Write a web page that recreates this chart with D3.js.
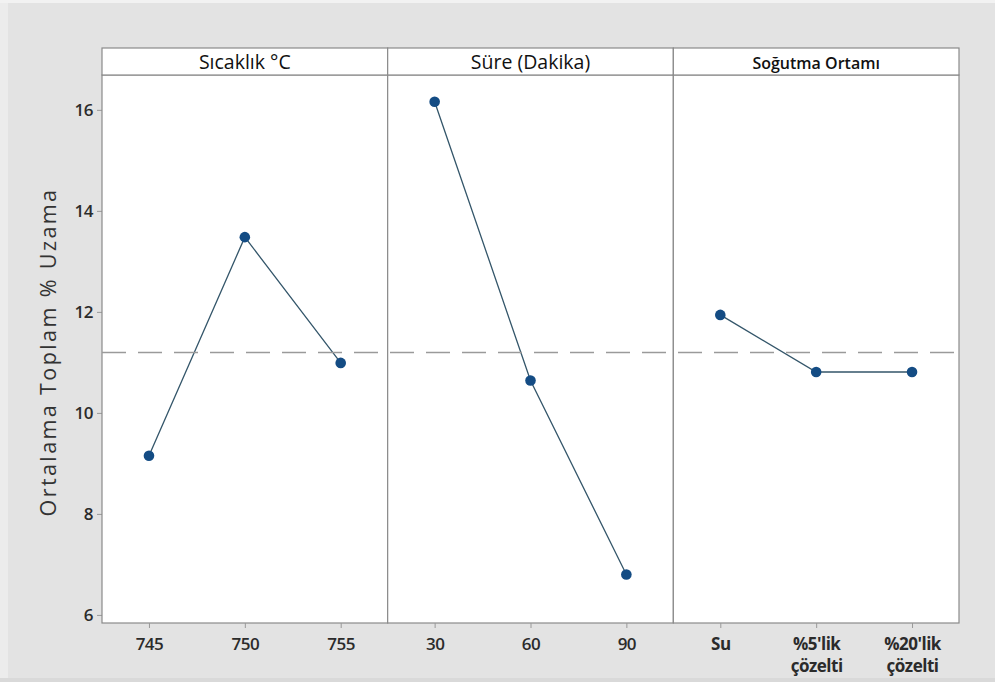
<!DOCTYPE html>
<html>
<head>
<meta charset="utf-8">
<script src="https://cdn.jsdelivr.net/npm/d3@7/dist/d3.min.js"></script>
<style>
  html, body { margin: 0; padding: 0; background: #e3e3e3; }
  svg { display: block; }
</style>
</head>
<body>
<svg id="chart" width="995" height="682"></svg>
<script>
// Main effects plot: mean total elongation per factor level
const panelTitles = ["Sıcaklık °C", "Süre (Dakika)", "Soğutma Ortamı"];
const sicaklikLevels = ["745", "750", "755"];
const sicaklikMeans = [9.15, 13.48, 10.99];
const sureLevels = ["30", "60", "90"];
const sureMeans = [16.16, 10.64, 6.80];
const ortamLevels = ["Su", "%5'lik\nçözelti", "%20'lik\nçözelti"];
const ortamMeans = [11.94, 10.81, 10.81];
const yTicks = [6, 8, 10, 12, 14, 16];
const yLabel = "Ortalama Toplam % Uzama";

(function () {
  const panels = [
    { title: panelTitles[0], levels: sicaklikLevels, means: sicaklikMeans, boldTicks: false },
    { title: panelTitles[1], levels: sureLevels, means: sureMeans, boldTicks: false },
    { title: panelTitles[2], levels: ortamLevels, means: ortamMeans, boldTicks: true }
  ];

  // overall mean of the response
  const grandMean = d3.mean(panels.flatMap(p => p.means));

  const svg = d3.select("#chart");
  const W = 995, H = 682;

  // outer frame
  svg.append("rect").attr("x", 0).attr("y", 0).attr("width", W).attr("height", H).attr("fill", "#e3e3e3");
  svg.append("rect").attr("x", 0).attr("y", 0).attr("width", 8).attr("height", H).attr("fill", "#ececec");
  svg.append("rect").attr("x", 0).attr("y", 0).attr("width", W).attr("height", 3).attr("fill", "#f2f2f2");
  svg.append("rect").attr("x", 0).attr("y", H - 4).attr("width", W).attr("height", 4).attr("fill", "#d9d9d9");

  const mLeft = 102, mRight = 959, mTop = 48, stripH = 27, mBottom = 623;
  const plotTop = mTop + stripH;
  const panelW = (mRight - mLeft) / panels.length;

  const y = d3.scaleLinear().domain([5.84, 16.69]).range([mBottom, plotTop]);

  const font = "'Open Sans', 'Noto Sans', sans-serif";
  const frameColor = "#8a8a8a";
  const tickFont = 17;

  // y axis
  const yAxis = svg.append("g")
    .attr("transform", `translate(${mLeft},0)`)
    .call(d3.axisLeft(y).tickValues(yTicks).tickSize(5).tickPadding(4).tickFormat(d3.format("d")));
  yAxis.select(".domain").remove();
  yAxis.selectAll(".tick line").attr("stroke", "#999");
  yAxis.selectAll(".tick text")
    .attr("font-family", font).attr("font-size", tickFont).attr("font-weight", 600)
    .attr("letter-spacing", -0.5).attr("fill", "#2b2b2b");

  svg.append("text")
    .attr("transform", `translate(56,${(plotTop + mBottom) / 2 + 3}) rotate(-90)`)
    .attr("text-anchor", "middle")
    .attr("font-family", font).attr("font-size", 21.5).attr("letter-spacing", 2.4)
    .attr("fill", "#333")
    .text(yLabel);

  panels.forEach((p, i) => {
    const x0 = mLeft + i * panelW;
    const g = svg.append("g");

    // plotting area
    g.append("rect").attr("x", x0).attr("y", plotTop).attr("width", panelW).attr("height", mBottom - plotTop)
      .attr("fill", "#fff").attr("stroke", frameColor).attr("stroke-width", 1.2);
    // strip header
    g.append("rect").attr("x", x0).attr("y", mTop).attr("width", panelW).attr("height", stripH)
      .attr("fill", "#fff").attr("stroke", frameColor).attr("stroke-width", 1.2);
    g.append("text")
      .attr("x", x0 + panelW / 2).attr("y", mTop + stripH / 2 + 7)
      .attr("text-anchor", "middle")
      .attr("font-family", font)
      .attr("font-size", i === 2 ? 16 : 19.5)
      .attr("font-weight", i === 2 ? 600 : 500)
      .attr("fill", "#111")
      .text(p.title);

    const x = d3.scalePoint().domain(p.levels).range([x0, x0 + panelW]).padding(0.49);

    // x axis
    const xa = g.append("g")
      .attr("transform", `translate(0,${mBottom})`)
      .call(d3.axisBottom(x).tickSize(5).tickPadding(6).tickFormat(() => ""));
    xa.select(".domain").remove();
    xa.selectAll(".tick line").attr("stroke", "#999");
    xa.selectAll(".tick").each(function (d) {
      const lines = d.split("\n");
      const t = d3.select(this).select("text")
        .attr("font-family", font).attr("font-size", tickFont)
        .attr("font-weight", p.boldTicks ? 700 : 600)
        .attr("letter-spacing", -0.5)
        .attr("fill", "#2b2b2b")
        .attr("y", 15).attr("dy", 0);
      lines.forEach((ln, k) => {
        t.append("tspan").attr("x", 0).attr("dy", k === 0 ? "0.71em" : "1.3em").text(ln);
      });
    });

    // mean connecting line
    const pts = p.levels.map((lv, k) => [x(lv), y(p.means[k])]);
    g.append("path")
      .attr("d", d3.line()(pts))
      .attr("fill", "none").attr("stroke", "#34566a").attr("stroke-width", 1.3);

    g.selectAll("circle").data(pts).join("circle")
      .attr("cx", d => d[0]).attr("cy", d => d[1]).attr("r", 5.3)
      .attr("fill", "#144c84");
  });

  // reference line at the overall mean
  svg.append("line")
    .attr("x1", mLeft).attr("x2", mRight)
    .attr("y1", y(grandMean)).attr("y2", y(grandMean))
    .attr("stroke", "#9a9a9a").attr("stroke-width", 1.5)
    .attr("stroke-dasharray", "24,12");

  // markers stay above the reference line
  svg.selectAll("circle").raise();
})();
</script>
</body>
</html>
